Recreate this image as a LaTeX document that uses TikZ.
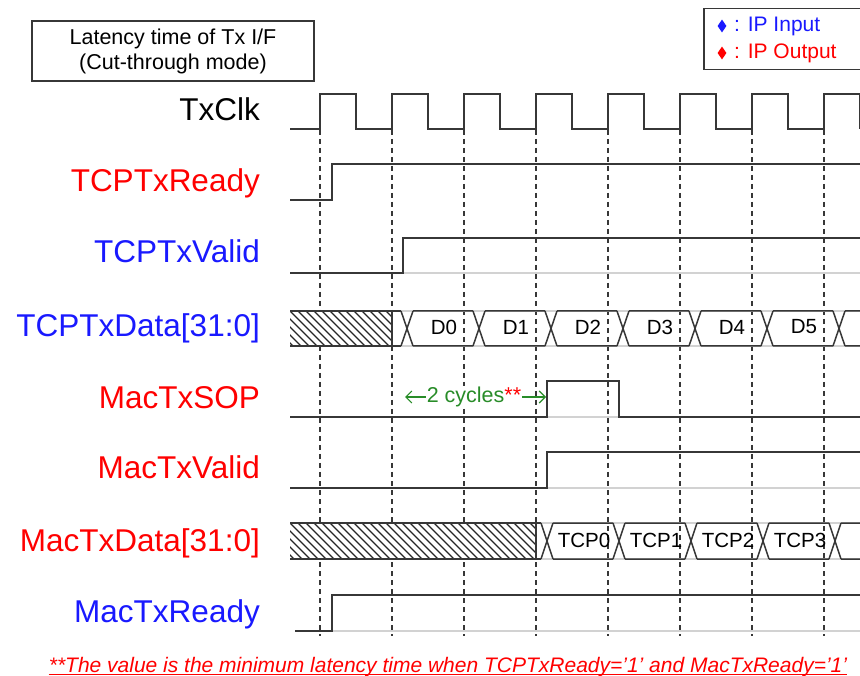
\documentclass[tikz,border=0pt]{standalone}
\usepackage{fontspec}
\setmainfont{Liberation Sans}
\usetikzlibrary{arrows.meta,shapes.geometric}
\definecolor{outred}{RGB}{255,0,0}
\definecolor{inblue}{RGB}{25,25,255}
\definecolor{waveline}{RGB}{55,55,55}
\definecolor{ghostline}{RGB}{210,210,210}
\definecolor{cyclegreen}{RGB}{40,140,40}
\begin{document}
\begin{tikzpicture}[x=1pt, y=-1pt,
  wave/.style={draw=waveline, line width=1.5pt},
  ghost/.style={draw=ghostline, line width=1.4pt},
  tick/.style={draw=waveline, line width=1.1pt, dash pattern=on 5pt off 4pt},
  hatch/.style={draw=black!85, line width=1.1pt},
  siglabel/.style={anchor=base east, inner sep=0pt, font=\fontsize{31.5}{36}\selectfont},
  buslabel/.style={inner sep=0pt, font=\fontsize{20.5}{24}\selectfont},
  boxtext/.style={inner sep=0pt, font=\fontsize{21.5}{25}\selectfont},
  cyclearrow/.style={draw=cyclegreen, line width=1.1pt, -{Straight Barb[length=6pt, width=12pt]}}]
\clip (0,0) rectangle (860,676);
\fill[white] (0,0) rectangle (860,676);

\node[draw=waveline, line width=1.5pt, minimum width=282, minimum height=60, align=center, boxtext] (title) at (173,51) {Latency time of Tx I/F\\(Cut-through mode)};
\node[draw=waveline, line width=1.5pt, anchor=north west, minimum width=175, minimum height=61] (legend) at (703,8) {};
\node[diamond, fill=inblue, inner sep=0pt, minimum width=9, minimum height=13] (inmark) at (722,26) {};
\node[boxtext, font=\fontsize{21}{25}\selectfont, text=inblue, anchor=base west] (intext) at (734,32) {: IP Input};
\node[diamond, fill=outred, inner sep=0pt, minimum width=9, minimum height=13] (outmark) at (722,53) {};
\node[boxtext, font=\fontsize{21}{25}\selectfont, text=outred, anchor=base west] (outtext) at (734,59) {: IP Output};

\node[siglabel] (clk) at (260,121) {TxClk};
\node[siglabel, text=outred] (tready) at (260,192) {TCPTxReady};
\node[siglabel, text=inblue] (tvalid) at (260,263) {TCPTxValid};
\node[siglabel, text=inblue] (tdata) at (260,337) {TCPTxData[31:0]};
\node[siglabel, text=outred] (msop) at (260,409) {MacTxSOP};
\node[siglabel, text=outred] (mvalid) at (260,478) {MacTxValid};
\node[siglabel, text=outred] (mdata) at (260,551) {MacTxData[31:0]};
\node[siglabel, text=inblue] (mready) at (260,622) {MacTxReady};

\foreach \k in {0,...,7}
  \draw[tick] ({320+72*\k},130) -- ({320+72*\k},636);

\draw[wave] (290,129) \foreach \k in {0,...,7} {-- ({320+72*\k},129) -- ({320+72*\k},94) -- ({356+72*\k},94) -- ({356+72*\k},129)};

\draw[wave] (290,200) -- (332,200) -- (332,164) -- (860,164);
\draw[ghost] (403,273) -- (860,273);
\draw[wave] (290,273) -- (403,273) -- (403,238) -- (860,238);

\fill[white] (290,311) rectangle (392,346);
\begin{scope}
  \clip (290,311) rectangle (392,346);
  \foreach \h in {250,258,...,392} \draw[hatch] (\h,311) -- ++(35,35);
\end{scope}
\draw[wave] (290,311) -- (392,311) -- (392,346) -- (290,346);
\draw[ghost] (392,311) -- (860,311) (392,346) -- (860,346);
\draw[wave] (392,311) -- (401,311) (392,346) -- (401,346);
\foreach \c in {407,479,...,839}
  \draw[wave] ({\c-6},311) -- ({\c+6},346) ({\c-6},346) -- ({\c+6},311) ({\c+6},311) -- ({\c+66},311) ({\c+6},346) -- ({\c+66},346);
\foreach \i in {0,...,5}
  \node[buslabel] (d\i) at ({444+72*\i},327) {D\i};

\draw[ghost] (547,417) -- (619,417);
\draw[wave] (290,417) -- (547,417) -- (547,381) -- (619,381) -- (619,417) -- (860,417);
\node[buslabel, font=\fontsize{21.5}{24}\selectfont, fill=white, inner sep=1pt, text=cyclegreen] (cycles) at (474,397) {2 cycles\textcolor{outred}{**}};
\coordinate (cycfrom) at (405,397);
\coordinate (cycto) at (546,397);
\draw[cyclearrow] (cycles) -- (cycfrom);
\draw[cyclearrow] (cycles) -- (cycto);

\draw[ghost] (547,488) -- (860,488);
\draw[wave] (290,488) -- (547,488) -- (547,452) -- (860,452);

\fill[white] (290,523) rectangle (536,559);
\begin{scope}
  \clip (290,523) rectangle (536,559);
  \foreach \h in {250,258,...,536} \draw[hatch] (\h,523) -- ++(36,36);
\end{scope}
\draw[wave] (290,523) -- (536,523) -- (536,559) -- (290,559);
\draw[ghost] (536,523) -- (860,523) (536,559) -- (860,559);
\draw[wave] (536,523) -- (541,523) (536,559) -- (541,559);
\foreach \c in {547,619,...,835}
  \draw[wave] ({\c-6},523) -- ({\c+6},559) ({\c-6},559) -- ({\c+6},523) ({\c+6},523) -- ({\c+66},523) ({\c+6},559) -- ({\c+66},559);
\foreach \i in {0,...,3}
  \node[buslabel] (tcp\i) at ({584+72*\i},540) {TCP\i};

\draw[ghost] (332,631) -- (860,631);
\draw[wave] (295,631) -- (332,631) -- (332,595) -- (860,595);

\node[text=outred, inner sep=0pt, anchor=base, font=\fontsize{21}{24}\selectfont\itshape] (note) at (448,672) {**The value is the minimum latency time when TCPTxReady=’1’ and MacTxReady=’1’};
\draw[outred, line width=1pt] ([yshift=-2.5pt]note.base west) -- ([yshift=-2.5pt]note.base east);
\end{tikzpicture}
\end{document}
